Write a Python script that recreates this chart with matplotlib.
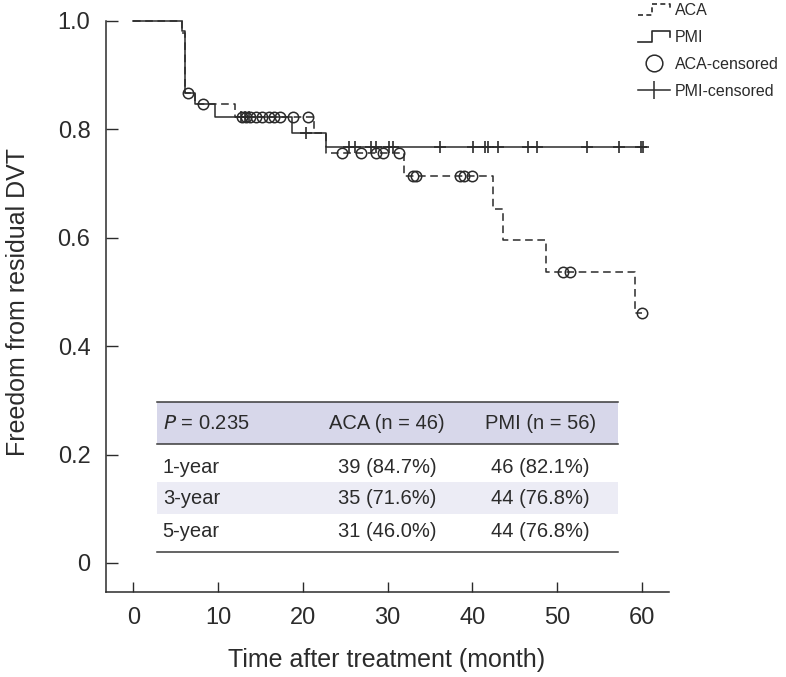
import numpy as np
import matplotlib
matplotlib.use("Agg")
import matplotlib.pyplot as plt
from matplotlib.lines import Line2D
from matplotlib.patches import Rectangle
from matplotlib.legend_handler import HandlerBase

plt.rcParams['font.family'] = ['Liberation Sans', 'DejaVu Sans']

# Kaplan-Meier steps (month, survival)
aca_time = [0, 5.7, 6.1, 7.3, 12.0, 21.3, 22.8, 32.0, 42.5, 43.6, 48.7, 59.2, 60.0]
aca_surv = [1.0, 0.978, 0.867, 0.846, 0.822, 0.794, 0.757, 0.714, 0.654, 0.596, 0.536, 0.461, 0.461]
pmi_time = [0, 5.7, 6.1, 7.3, 9.6, 18.7, 22.8, 60.0]
pmi_surv = [1.0, 0.982, 0.867, 0.846, 0.822, 0.794, 0.767, 0.767]

# censored observations (month)
aca_censored = [6.5, 8.25, 12.8, 13.3, 13.8, 14.5, 15.2, 16.0, 16.6, 17.3, 18.9, 20.6,
                24.6, 26.9, 28.7, 29.5, 31.4, 33.0, 33.4, 38.5, 39.0, 40.0,
                50.7, 51.5, 60.0]
pmi_censored = [12.7, 13.2, 13.6, 20.4, 25.5, 26.2, 28.1, 28.6, 30.2, 30.7, 36.2,
                40.1, 41.5, 41.8, 43.0, 46.6, 47.6, 53.5, 57.3, 59.9, 60.1]

# summary table
table_header = ["P = 0.235", "ACA (n = 46)", "PMI (n = 56)"]
row_labels = ["1-year", "3-year", "5-year"]
aca_counts = ["39 (84.7%)", "35 (71.6%)", "31 (46.0%)"]
pmi_counts = ["46 (82.1%)", "44 (76.8%)", "44 (76.8%)"]

legend_labels = ["ACA", "PMI", "ACA-censored", "PMI-censored"]

INK = "#2b2b2b"


def surv_at(t, times, surv):
    idx = np.searchsorted(times, t, side="right") - 1
    return np.asarray(surv)[idx]


class StepHandler(HandlerBase):
    def __init__(self, ls):
        super().__init__()
        self.ls = ls

    def create_artists(self, legend, orig_handle, xdescent, ydescent,
                       width, height, fontsize, trans):
        x0 = -xdescent
        xs = [x0, x0 + 0.45 * width, x0 + 0.45 * width, x0 + width, x0 + width]
        ys = [0.0 * height, 0.0 * height, 0.95 * height, 0.95 * height, 0.45 * height]
        line = Line2D(np.array(xs), np.array(ys) - ydescent, color=INK, lw=1.2,
                      linestyle=self.ls)
        line.set_transform(trans)
        return [line]


fig = plt.figure(figsize=(7.86, 6.77), dpi=100)
ax = fig.add_axes([0.1345, 0.1256, 0.7165, 0.8434])

ax.step(aca_time, aca_surv, where="post", color=INK, lw=1.1,
        linestyle=(0, (5, 3)), clip_on=False, zorder=3)
ax.step(pmi_time, pmi_surv, where="post", color=INK, lw=1.1, clip_on=False, zorder=3)

ax.plot(aca_censored, surv_at(aca_censored, aca_time, aca_surv), "o", ms=7.5,
        mfc="none", mec=INK, mew=1.1, clip_on=False, zorder=4)
ax.plot(pmi_censored, surv_at(pmi_censored, pmi_time, pmi_surv), "+", ms=8,
        color=INK, mew=1.2, clip_on=False, zorder=4)

ax.set_xlim(-3.25, 63.2)
ax.set_ylim(-0.0535, 1.0)
ax.set_xticks(range(0, 61, 10))
ax.set_yticks([0, 0.2, 0.4, 0.6, 0.8, 1.0])
ax.set_yticklabels(["0", "0.2", "0.4", "0.6", "0.8", "1.0"])
for s in ["top", "right"]:
    ax.spines[s].set_visible(False)
for s in ["left", "bottom"]:
    ax.spines[s].set_color(INK)
    ax.spines[s].set_linewidth(1.1)
ax.tick_params(axis="both", direction="in", color=INK, width=1.0,
               labelsize=17, labelcolor=INK)
ax.tick_params(axis="y", length=8.5, pad=11)
ax.tick_params(axis="x", length=7, pad=11)

fig.text(18 / 786, 1 - 302 / 677, "Freedom from residual DVT", rotation=90,
         ha="center", va="center", fontsize=18, color=INK)
fig.text(387 / 786, 1 - 660 / 677, "Time after treatment (month)",
         ha="center", va="center", fontsize=18, color=INK)

# table drawn in axes coordinates
tl, tr = 0.0916, 0.909
tt, th, tb = 0.3333, 0.2587, 0.0706
ax.add_patch(Rectangle((tl, th), tr - tl, tt - th, transform=ax.transAxes,
                       facecolor="#d7d7ea", edgecolor="none", zorder=1))
ax.add_patch(Rectangle((tl, 0.1361), tr - tl, 0.1921 - 0.1361, transform=ax.transAxes,
                       facecolor="#ececf5", edgecolor="none", zorder=1))
for yy in [tt, th, tb]:
    ax.plot([tl, tr], [yy, yy], transform=ax.transAxes, color="#3a3a3a", lw=1.1, zorder=2)

tfs = 14.5
col_x = [0.1012, 0.4999, 0.7722]
hy = 0.2954
ax.text(col_x[0], hy, r"$P$" + " = 0.235", transform=ax.transAxes, ha="left",
        va="center", fontsize=tfs, color=INK)
ax.text(col_x[1], hy, table_header[1], transform=ax.transAxes, ha="center",
        va="center", fontsize=tfs, color=INK)
ax.text(col_x[2], hy, table_header[2], transform=ax.transAxes, ha="center",
        va="center", fontsize=tfs, color=INK)
row_y = [0.2177, 0.1629, 0.1056]
for lab, a, p, yy in zip(row_labels, aca_counts, pmi_counts, row_y):
    ax.text(col_x[0], yy, lab, transform=ax.transAxes, ha="left", va="center",
            fontsize=tfs, color=INK)
    ax.text(col_x[1], yy, a, transform=ax.transAxes, ha="center", va="center",
            fontsize=tfs, color=INK)
    ax.text(col_x[2], yy, p, transform=ax.transAxes, ha="center", va="center",
            fontsize=tfs, color=INK)

# legend
h_aca = Line2D([], [], color=INK)
h_pmi = Line2D([], [], color=INK)
h_aca_c = Line2D([], [], marker="o", ls="none", ms=12, mfc="none", mec=INK, mew=1.1)
h_pmi_c = Line2D([], [], marker="|", ls="-", ms=13, color=INK, lw=1.1, mew=1.1)
fig.legend([h_aca, h_pmi, h_aca_c, h_pmi_c], legend_labels,
           handler_map={h_aca: StepHandler((0, (3, 2))), h_pmi: StepHandler("-")},
           loc="upper left", bbox_to_anchor=(638 / 786, 0.996), frameon=False,
           fontsize=11.5, handlelength=2.0, handletextpad=0.3, labelspacing=0.75,
           borderpad=0, borderaxespad=0, numpoints=1, labelcolor=INK)

fig.savefig("out.png", dpi=100)
